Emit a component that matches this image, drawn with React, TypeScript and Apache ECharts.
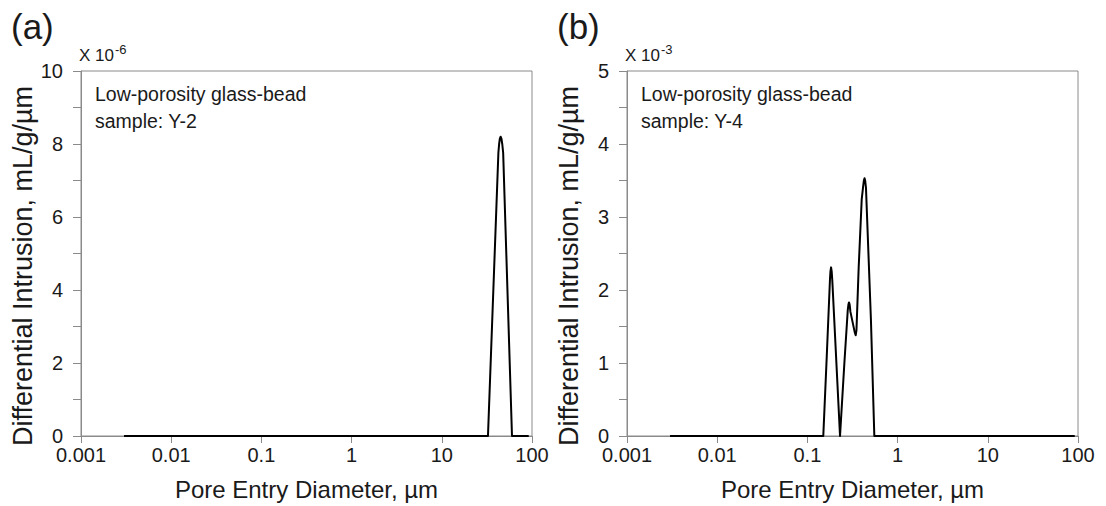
import React, { useEffect, useRef } from "react";
import * as echarts from "echarts";

// ---- data ----
const xTickLabels = ["0.001", "0.01", "0.1", "1", "10", "100"];
const yLabelsA = ["0", "2", "4", "6", "8", "10"];
const yLabelsB = ["0", "1", "2", "3", "4", "5"];

// Panel (a): Y-2, values in units of 1e-6 mL/g/µm
const diamA = [0.003, 32.5, 42.4, 43.2, 44.0, 44.9, 45.8, 46.8, 47.9, 60, 92];
const valA = [0, 0, 7.76, 8.0, 8.15, 8.2, 8.15, 8.0, 7.76, 0, 0];

// Panel (b): Y-4, values in units of 1e-3 mL/g/µm
const diamB = [
  0.003, 0.15, 0.164, 0.178, 0.18, 0.183, 0.186, 0.189, 0.23, 0.257, 0.28, 0.285,
  0.289, 0.294, 0.3, 0.335, 0.343, 0.35, 0.37, 0.4, 0.415, 0.423, 0.43, 0.437,
  0.446, 0.506, 0.552, 92,
];
const valB = [
  0, 0, 1.1, 2.15, 2.25, 2.31, 2.25, 2.12, 0, 1.0, 1.72, 1.8, 1.83, 1.8, 1.7,
  1.42, 1.38, 1.45, 2.3, 3.24, 3.42, 3.5, 3.53, 3.5, 3.4, 1.6, 0, 0,
];

const panelTitles = ["(a)", "(b)"];
const multipliers = ["-6", "-3"];
const notes = ["Low-porosity glass-bead\nsample: Y-2", "Low-porosity glass-bead\nsample: Y-4"];
const xName = "Pore Entry Diameter, µm";
const yName = "Differential Intrusion, mL/g/µm";

const FONT = "'Liberation Sans', Arial, sans-serif";
const GRAY = "#8a8a8a";
const TXT = "#1a1a1a";

export default function App() {
  const ref = useRef<HTMLDivElement>(null);
  useEffect(() => {
    if (!ref.current) return;
    const chart = echarts.init(ref.current, undefined, { renderer: "svg" });
    const grids = [
      { left: 81, top: 71, width: 451, height: 367 },
      { left: 627, top: 71, width: 451, height: 367 },
    ];
    const xAxes = grids.map((_, i) => ({
      type: "log" as const,
      logBase: 10,
      min: 0.001,
      max: 100,
      gridIndex: i,
      name: xName,
      nameLocation: "middle" as const,
      nameGap: 41,
      nameTextStyle: { fontSize: 24, color: TXT, fontFamily: FONT },
      axisLine: { lineStyle: { color: GRAY, width: 1 } },
      axisTick: { show: true, inside: false, length: 7, lineStyle: { color: GRAY } },
      minorTick: { show: false },
      splitLine: { show: false },
      axisLabel: {
        fontSize: 20,
        color: TXT,
        fontFamily: FONT,
        margin: 9,
        formatter: (v: number) => {
          const idx = Math.round(Math.log10(v)) + 3;
          return xTickLabels[idx] ?? "";
        },
      },
    }));
    const yLabelSets = [yLabelsA, yLabelsB];
    const yAxes = grids.map((_, i) => ({
      type: "value" as const,
      gridIndex: i,
      min: 0,
      max: i === 0 ? 10 : 5,
      interval: i === 0 ? 1 : 0.5,
      axisLine: { show: true, lineStyle: { color: GRAY, width: 1 } },
      axisTick: { show: true, inside: false, length: 8, lineStyle: { color: GRAY } },
      splitLine: { show: false },
      axisLabel: {
        fontSize: 20,
        color: TXT,
        fontFamily: FONT,
        margin: 18,
        formatter: (v: number) => {
          const s = String(Math.round(v * 100) / 100);
          return yLabelSets[i].includes(s) ? s : "";
        },
      },
    }));
    const mkData = (xs: number[], ys: number[]) => xs.map((x, k) => [x, ys[k]]);
    const series = [
      { data: mkData(diamA, valA), idx: 0 },
      { data: mkData(diamB, valB), idx: 1 },
    ].map((s) => ({
      type: "line" as const,
      xAxisIndex: s.idx,
      yAxisIndex: s.idx,
      data: s.data,
      showSymbol: false,
      smooth: false,
      clip: true,
      lineStyle: { color: "#000", width: 2, join: "round" as const },
    }));
    const graphic: any[] = [];
    grids.forEach((g, i) => {
      graphic.push({
        type: "text",
        left: g.left - 70,
        top: 9,
        style: { text: panelTitles[i], fontSize: 35, fill: TXT, fontFamily: FONT },
      });
      graphic.push({
        type: "text",
        left: g.left - 2,
        top: 47,
        style: { text: "X 10", fontSize: 17, fill: TXT, fontFamily: FONT },
      });
      graphic.push({
        type: "text",
        left: g.left + 34,
        top: 43,
        style: { text: multipliers[i], fontSize: 13, fill: TXT, fontFamily: FONT },
      });
      graphic.push({
        type: "text",
        left: g.left + 14,
        top: 80,
        style: {
          text: notes[i],
          fontSize: 19.5,
          lineHeight: 27,
          fill: TXT,
          fontFamily: FONT,
        },
      });
      graphic.push({
        type: "text",
        x: g.left - 58,
        y: 266,
        rotation: Math.PI / 2,
        style: {
          text: yName,
          fontSize: 27,
          fill: TXT,
          fontFamily: FONT,
          align: "center",
          verticalAlign: "middle",
        },
      });
    });
    chart.setOption({
      animation: false,
      backgroundColor: "#fff",
      grid: grids.map((g) => ({ ...g, show: true, borderColor: GRAY, borderWidth: 1 })),
      xAxis: xAxes,
      yAxis: yAxes,
      series,
      graphic,
    });
    return () => chart.dispose();
  }, []);
  return (
    <div
      ref={ref}
      style={{ position: "absolute", left: 0, top: 0, width: 1106, height: 506 }}
    />
  );
}
